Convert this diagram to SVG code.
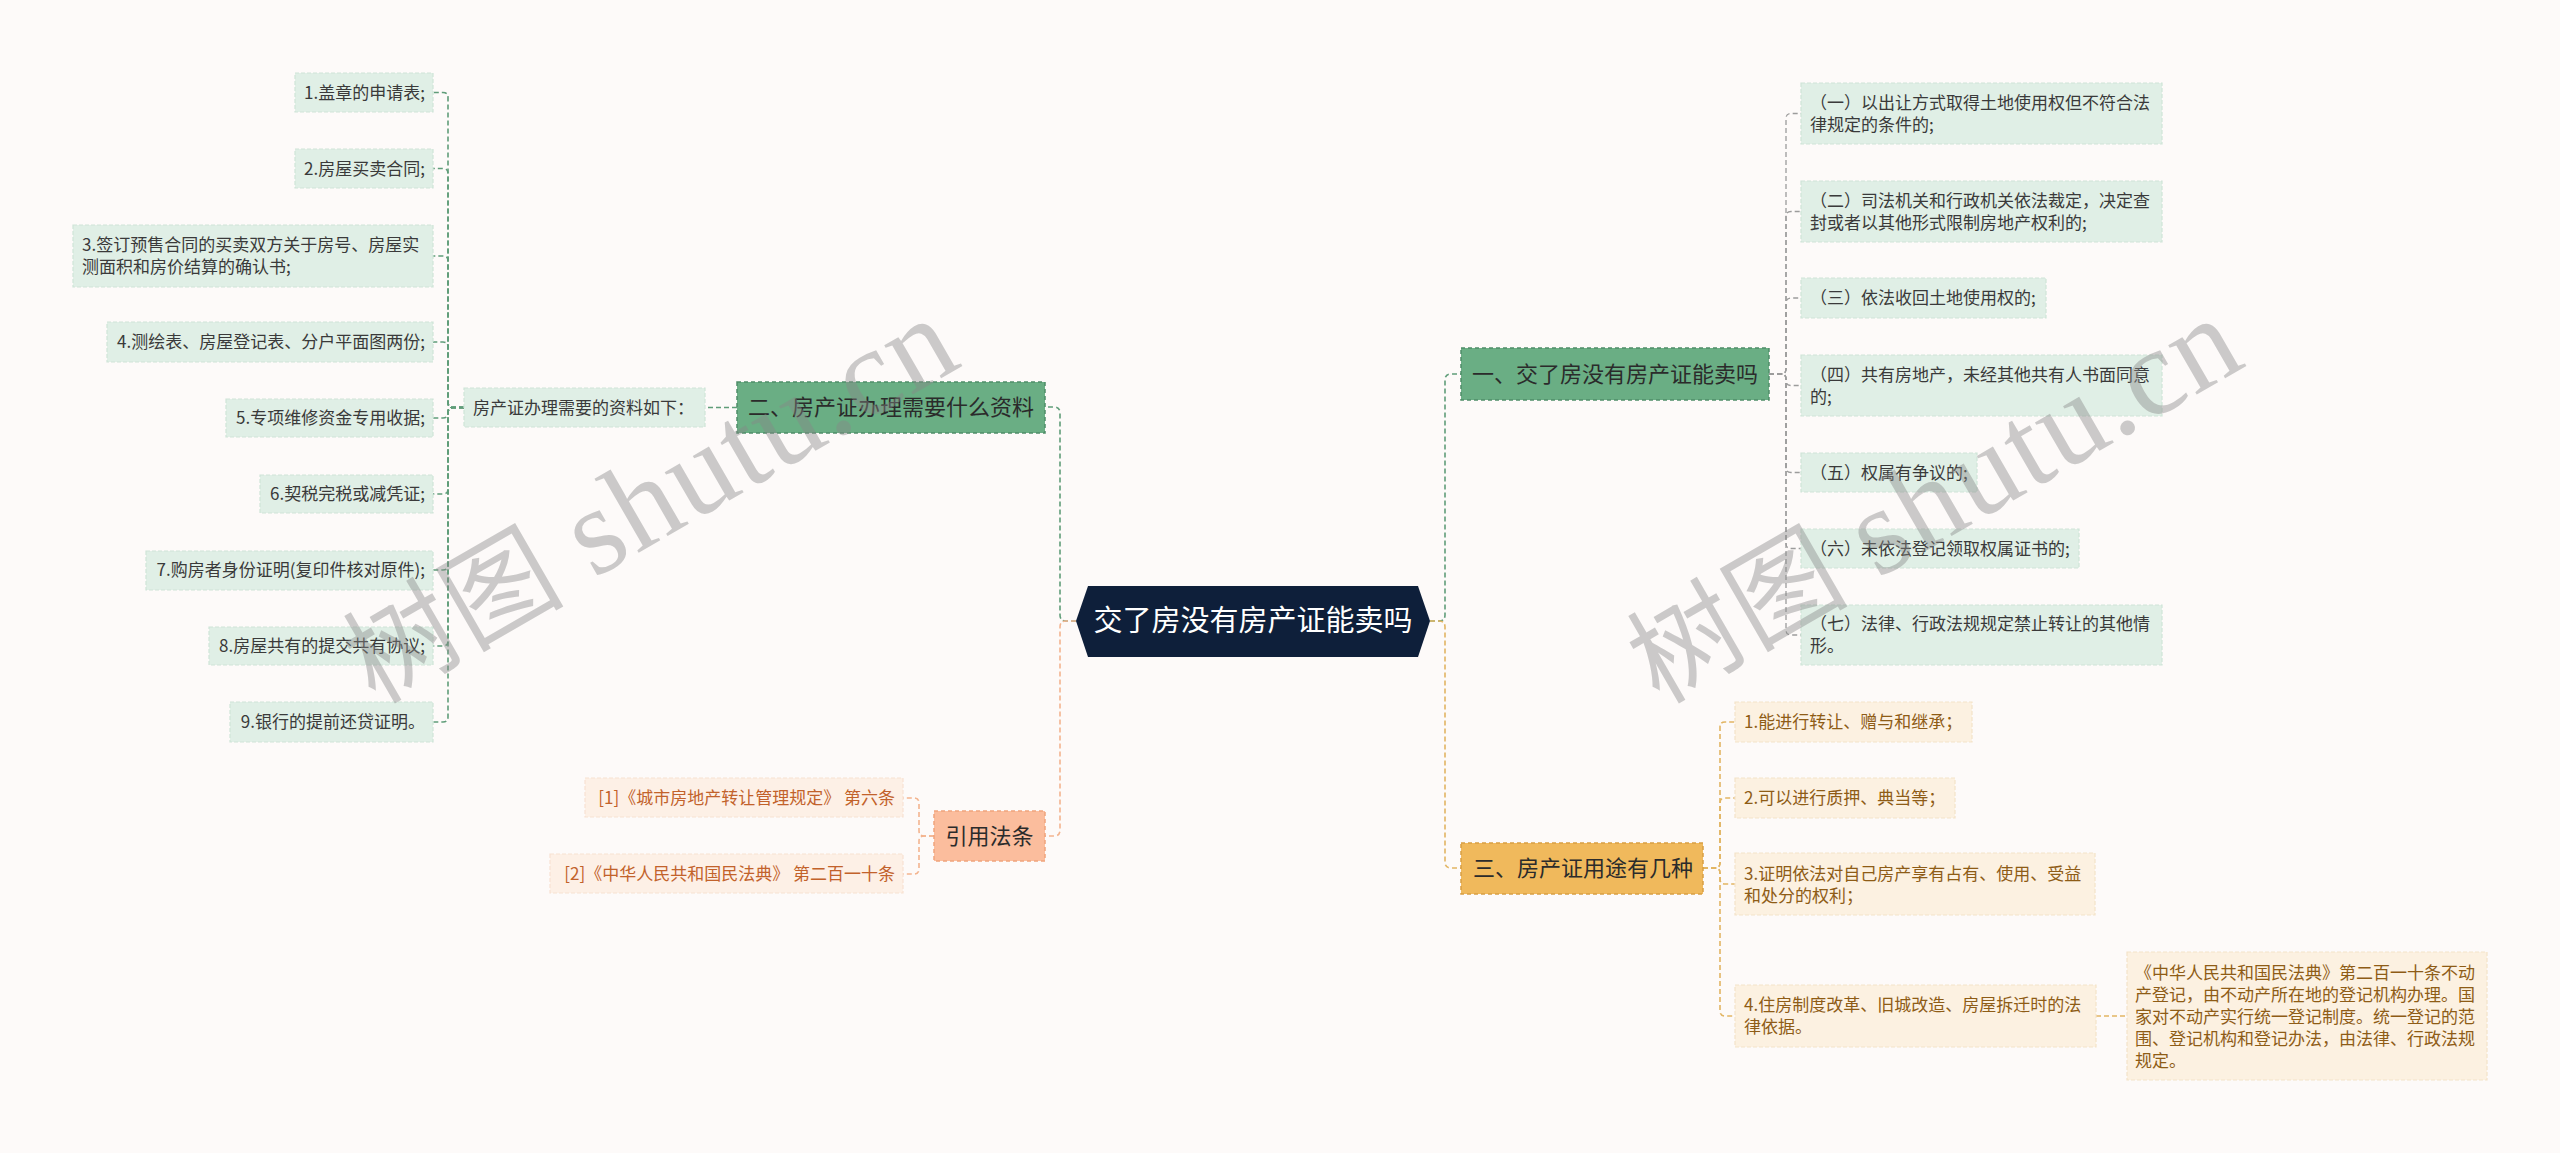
<svg xmlns="http://www.w3.org/2000/svg" width="2560" height="1153" viewBox="0 0 2560 1153">
<style>
text{font-family:"Noto Sans CJK SC","Microsoft YaHei",sans-serif}
.lf{fill:#e0efe6;stroke:#cfe4d7;stroke-width:1.2;stroke-dasharray:4 2}
.yf{fill:#fcf1e1;stroke:#f3e3c9;stroke-width:1.2;stroke-dasharray:4 2}
.of{fill:#fdf0e6;stroke:#f8e2d2;stroke-width:1.2;stroke-dasharray:4 2}
.lt{font-size:17px;fill:#3a3a3a}
.yt{font-size:17px;fill:#8e5c16}
.ot{font-size:17px;fill:#c2622b}
.bt{font-size:22px;fill:#2b2b2b}
.c{fill:none;stroke-width:1.6;stroke-dasharray:5 3}
.cg{stroke:#5f9d79}
.cgr{stroke:#9c9c9c;stroke-width:1.3}
.cy{stroke:#e2b563}
.co{stroke:#f3b48f}
.wm{font-family:"Liberation Serif","Noto Sans CJK SC",serif;font-size:110px;fill:#888888;opacity:0.42}
.wl{font-size:124px}
</style>
<rect x="0" y="0" width="2560" height="1153" fill="#fdfaf9"/>
<g id="connectors">
<path class="c cg" d="M1076,621 H1066 Q1060,621 1060,615 V413 Q1060,407 1054,407 H1045"/>
<path class="c co" d="M1076,621 H1066 Q1060,621 1060,627 V830 Q1060,836 1054,836 H1045"/>
<path class="c cg" d="M1430,621 H1439 Q1445,621 1445,615 V380 Q1445,374 1451,374 H1461"/>
<path class="c cy" d="M1430,621 H1439 Q1445,621 1445,627 V862 Q1445,868 1451,868 H1461"/>
<path class="c cg" d="M737,407.5 H705"/>
<path class="c cg" d="M464,407.5 H453 Q448,407.5 448,402.5 V97.5 Q448,92.5 443,92.5 H433"/>
<path class="c cg" d="M464,407.5 H453 Q448,407.5 448,402.5 V173.5 Q448,168.5 443,168.5 H433"/>
<path class="c cg" d="M464,407.5 H453 Q448,407.5 448,402.5 V261 Q448,256 443,256 H433"/>
<path class="c cg" d="M464,407.5 H453 Q448,407.5 448,402.5 V347 Q448,342 443,342 H433"/>
<path class="c cg" d="M464,407.5 H453 Q448,407.5 448,412.5 V413 Q448,418 443,418 H433"/>
<path class="c cg" d="M464,407.5 H453 Q448,407.5 448,412.5 V489 Q448,494 443,494 H433"/>
<path class="c cg" d="M464,407.5 H453 Q448,407.5 448,412.5 V565 Q448,570 443,570 H433"/>
<path class="c cg" d="M464,407.5 H453 Q448,407.5 448,412.5 V641 Q448,646 443,646 H433"/>
<path class="c cg" d="M464,407.5 H453 Q448,407.5 448,412.5 V717 Q448,722 443,722 H433"/>
<path class="c cgr" d="M1769,374 H1781 Q1786,374 1786,369 V118.5 Q1786,113.5 1791,113.5 H1801"/>
<path class="c cgr" d="M1769,374 H1781 Q1786,374 1786,369 V216.5 Q1786,211.5 1791,211.5 H1801"/>
<path class="c cgr" d="M1769,374 H1781 Q1786,374 1786,369 V303 Q1786,298 1791,298 H1801"/>
<path class="c cgr" d="M1769,374 H1781 Q1786,374 1786,379 V380.5 Q1786,385.5 1791,385.5 H1801"/>
<path class="c cgr" d="M1769,374 H1781 Q1786,374 1786,379 V467.5 Q1786,472.5 1791,472.5 H1801"/>
<path class="c cgr" d="M1769,374 H1781 Q1786,374 1786,379 V543.5 Q1786,548.5 1791,548.5 H1801"/>
<path class="c cgr" d="M1769,374 H1781 Q1786,374 1786,379 V630 Q1786,635 1791,635 H1801"/>
<path class="c cy" d="M1703,868 H1715 Q1720,868 1720,863 V727 Q1720,722 1725,722 H1735"/>
<path class="c cy" d="M1703,868 H1715 Q1720,868 1720,863 V803 Q1720,798 1725,798 H1735"/>
<path class="c cy" d="M1703,868 H1715 Q1720,868 1720,873 V879 Q1720,884 1725,884 H1735"/>
<path class="c cy" d="M1703,868 H1715 Q1720,868 1720,873 V1011 Q1720,1016 1725,1016 H1735"/>
<path class="c cy" d="M2096,1016 H2127"/>
<path class="c co" d="M934,836 H924 Q919,836 919,831 V803 Q919,798 914,798 H903"/>
<path class="c co" d="M934,836 H924 Q919,836 919,841 V869 Q919,874 914,874 H903"/>
</g>
<g id="root">
<polygon points="1076,621 1088,586 1418,586 1430,621 1418,657 1088,657" fill="#0e1f3a"/>
<text x="1253" y="631" font-size="29" fill="#ffffff" text-anchor="middle">交了房没有房产证能卖吗</text>
</g>
<g id="b2">
<rect x="737" y="382" width="308" height="51" fill="#6aae84" stroke="#4f8d68" stroke-width="1.5" stroke-dasharray="4 3"/>
<text class="bt" x="748" y="415">二、房产证办理需要什么资料</text>
</g>
<g id="b2-sub">
<rect class="lf" x="464" y="388" width="241" height="39"/>
<text class="lt" x="473" y="413.5">房产证办理需要的资料如下：</text>
</g>
<g id="l1"><rect class="lf" x="295" y="73" width="138" height="39"/><text class="lt" x="425" y="98.5" text-anchor="end">1.盖章的申请表;</text></g>
<g id="l2"><rect class="lf" x="295" y="149" width="138" height="39"/><text class="lt" x="425" y="174.5" text-anchor="end">2.房屋买卖合同;</text></g>
<g id="l3"><rect class="lf" x="73" y="225" width="360" height="62"/><text class="lt" x="82" y="251">3.签订预售合同的买卖双方关于房号、房屋实</text><text class="lt" x="82" y="273">测面积和房价结算的确认书;</text></g>
<g id="l4"><rect class="lf" x="107" y="322" width="326" height="40"/><text class="lt" x="425" y="348" text-anchor="end">4.测绘表、房屋登记表、分户平面图两份;</text></g>
<g id="l5"><rect class="lf" x="226" y="399" width="207" height="38"/><text class="lt" x="425" y="424" text-anchor="end">5.专项维修资金专用收据;</text></g>
<g id="l6"><rect class="lf" x="260" y="475" width="173" height="38"/><text class="lt" x="425" y="500" text-anchor="end">6.契税完税或减凭证;</text></g>
<g id="l7"><rect class="lf" x="146" y="551" width="287" height="39"/><text class="lt" x="425" y="576" text-anchor="end">7.购房者身份证明(复印件核对原件);</text></g>
<g id="l8"><rect class="lf" x="209" y="627" width="224" height="38"/><text class="lt" x="425" y="652" text-anchor="end">8.房屋共有的提交共有协议;</text></g>
<g id="l9"><rect class="lf" x="230" y="702" width="203" height="40"/><text class="lt" x="425" y="728" text-anchor="end">9.银行的提前还贷证明。</text></g>
<g id="b4">
<rect x="934" y="811" width="111" height="50" fill="#fbbd9d" stroke="#f0a47c" stroke-width="1.5" stroke-dasharray="4 3"/>
<text class="bt" x="989.5" y="844" text-anchor="middle">引用法条</text>
</g>
<g id="o1"><rect class="of" x="585" y="778" width="318" height="39"/><text class="ot" x="895" y="804" text-anchor="end">[1]《城市房地产转让管理规定》 第六条</text></g>
<g id="o2"><rect class="of" x="550" y="854" width="353" height="39"/><text class="ot" x="895" y="880" text-anchor="end">[2]《中华人民共和国民法典》 第二百一十条</text></g>
<g id="b1">
<rect x="1461" y="348" width="308" height="52" fill="#6aae84" stroke="#4f8d68" stroke-width="1.5" stroke-dasharray="4 3"/>
<text class="bt" x="1472" y="382">一、交了房没有房产证能卖吗</text>
</g>
<g id="r1"><rect class="lf" x="1801" y="83" width="361" height="61"/><text class="lt" x="1810" y="108.5">（一）以出让方式取得土地使用权但不符合法</text><text class="lt" x="1810" y="130.5">律规定的条件的;</text></g>
<g id="r2"><rect class="lf" x="1801" y="181" width="361" height="61"/><text class="lt" x="1810" y="206.5">（二）司法机关和行政机关依法裁定，决定查</text><text class="lt" x="1810" y="228.5">封或者以其他形式限制房地产权利的;</text></g>
<g id="r3"><rect class="lf" x="1801" y="278" width="245" height="40"/><text class="lt" x="1810" y="304">（三）依法收回土地使用权的;</text></g>
<g id="r4"><rect class="lf" x="1801" y="355" width="361" height="61"/><text class="lt" x="1810" y="380.5">（四）共有房地产，未经其他共有人书面同意</text><text class="lt" x="1810" y="402.5">的;</text></g>
<g id="r5"><rect class="lf" x="1801" y="453" width="176" height="39"/><text class="lt" x="1810" y="478.5">（五）权属有争议的;</text></g>
<g id="r6"><rect class="lf" x="1801" y="529" width="278" height="39"/><text class="lt" x="1810" y="554.5">（六）未依法登记领取权属证书的;</text></g>
<g id="r7"><rect class="lf" x="1801" y="605" width="361" height="60"/><text class="lt" x="1810" y="630">（七）法律、行政法规规定禁止转让的其他情</text><text class="lt" x="1810" y="652">形。</text></g>
<g id="b3">
<rect x="1461" y="843" width="242" height="51" fill="#f0b95c" stroke="#d89e43" stroke-width="1.5" stroke-dasharray="4 3"/>
<text class="bt" x="1473" y="876">三、房产证用途有几种</text>
</g>
<g id="y1"><rect class="yf" x="1735" y="702" width="237" height="40"/><text class="yt" x="1744" y="728">1.能进行转让、赠与和继承；</text></g>
<g id="y2"><rect class="yf" x="1735" y="778" width="220" height="40"/><text class="yt" x="1744" y="804">2.可以进行质押、典当等；</text></g>
<g id="y3"><rect class="yf" x="1735" y="853" width="360" height="62"/><text class="yt" x="1744" y="879.5">3.证明依法对自己房产享有占有、使用、受益</text><text class="yt" x="1744" y="901.5">和处分的权利；</text></g>
<g id="y4"><rect class="yf" x="1735" y="985" width="361" height="62"/><text class="yt" x="1744" y="1011">4.住房制度改革、旧城改造、房屋拆迁时的法</text><text class="yt" x="1744" y="1033">律依据。</text></g>
<g id="y4-detail"><rect class="yf" x="2127" y="952" width="360" height="128"/>
<text class="yt" x="2135" y="979">《中华人民共和国民法典》第二百一十条不动</text>
<text class="yt" x="2135" y="1001">产登记，由不动产所在地的登记机构办理。国</text>
<text class="yt" x="2135" y="1023">家对不动产实行统一登记制度。统一登记的范</text>
<text class="yt" x="2135" y="1045">围、登记机构和登记办法，由法律、行政法规</text>
<text class="yt" x="2135" y="1067">规定。</text>
</g>
<text class="wm" x="375" y="705" transform="rotate(-30 375 705)" textLength="680" lengthAdjust="spacing">树图 <tspan class="wl">shutu.cn</tspan></text>
<text class="wm" x="1659" y="705" transform="rotate(-30 1659 705)" textLength="680" lengthAdjust="spacing">树图 <tspan class="wl">shutu.cn</tspan></text>
</svg>
